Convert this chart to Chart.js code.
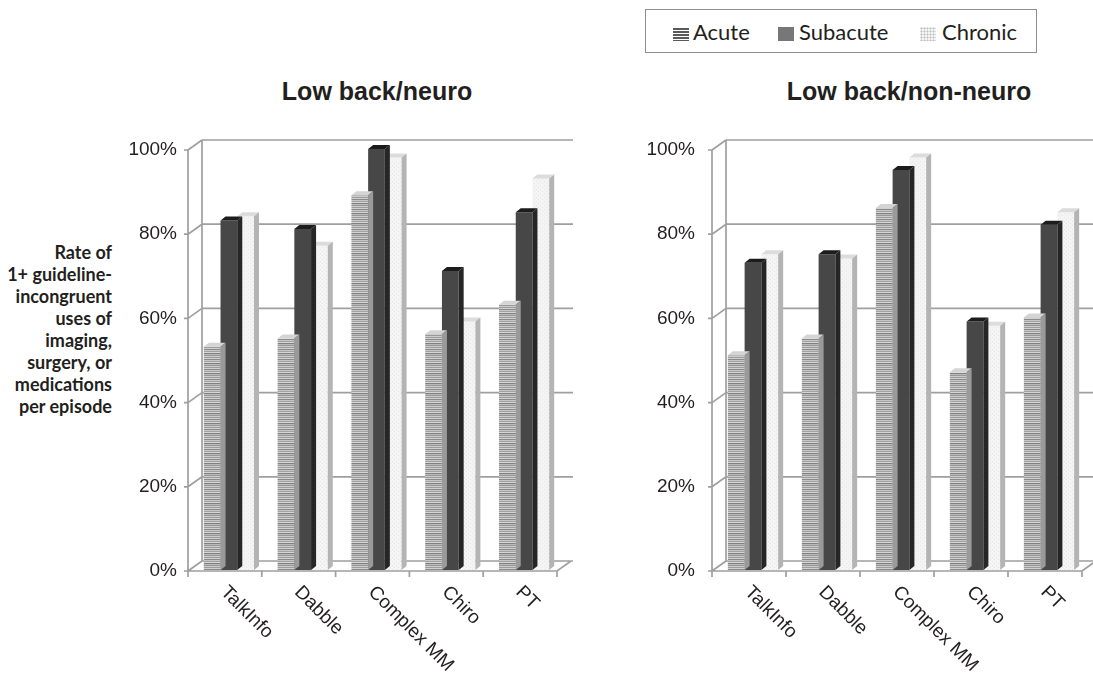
<!DOCTYPE html>
<html>
<head>
<meta charset="utf-8">
<script src="https://cdn.jsdelivr.net/npm/chart.js@4/dist/chart.umd.min.js"></script>
<style>
  html, body { margin: 0; padding: 0; background: #fff; }
  #page { position: relative; width: 1093px; height: 676px; overflow: hidden; background: #fff; }
  .title { position: absolute; top: 79px; font: bold 25px "Liberation Sans", Arial, sans-serif; line-height: 25px; color: #231f20; white-space: nowrap; transform: translateX(-50%); }
  #legend { position: absolute; left: 645px; top: 9px; width: 390px; height: 42px; border: 1px solid #8f8f8f; }
  .lg-sw { position: absolute; width: 16px; height: 14px; top: 17px; }
  .lg-tx { position: absolute; top: 11px; font: 22px Lato, sans-serif; line-height: 22px; color: #231f20; white-space: nowrap; }
  #ytitle { position: absolute; left: 0; top: 241px; width: 112px; text-align: right; font: bold 18px Lato, sans-serif; line-height: 22px; color: #231f20; }
  canvas.c { position: absolute; }
</style>
</head>
<body>
<div id="page">
  <div class="title" style="left:377px">Low back/neuro</div>
  <div class="title" style="left:909px">Low back/non-neuro</div>

  <div id="legend">
    <div class="lg-sw" style="left:27px;background:repeating-linear-gradient(#fff 0 1px,#5a5a5a 1px 3px);"></div>
    <div class="lg-tx" style="left:47px">Acute</div>
    <div class="lg-sw" style="left:132px;background:#777;"></div>
    <div class="lg-tx" style="left:153px">Subacute</div>
    <div class="lg-sw" style="left:274px;background:radial-gradient(circle,#bdbdbd 0.8px,#f4f4f4 1.2px);background-size:3px 3px;"></div>
    <div class="lg-tx" style="left:296px">Chronic</div>
  </div>

  <div id="ytitle">Rate of<br>1+ guideline-<br>incongruent<br>uses of<br>imaging,<br>surgery, or<br>medications<br>per episode</div>

  <canvas id="neuro" class="c" style="left:110px;top:100px" width="490" height="576"></canvas>
  <canvas id="nonneuro" class="c" style="left:630px;top:100px" width="463" height="576"></canvas>
</div>

<script>
// Categories and series values (percent of episodes)
const categories = ['TalkInfo', 'Dabble', 'Complex MM', 'Chiro', 'PT'];
const seriesNames = ['Acute', 'Subacute', 'Chronic'];

const neuroAcute = [53, 55, 89, 56, 63];
const neuroSubacute = [83, 81, 100, 71, 85];
const neuroChronic = [84, 77, 98, 59, 93];

const nonNeuroAcute = [51, 55, 86, 47, 60];
const nonNeuroSubacute = [73, 75, 95, 59, 82];
const nonNeuroChronic = [75, 74, 98, 58, 85];

const yTicks = [0, 20, 40, 60, 80, 100];
const yTickLabels = ['0%', '20%', '40%', '60%', '80%', '100%'];

// ---- fill patterns ----
function makeTile(w, h, paint) {
  const c = document.createElement('canvas');
  c.width = w; c.height = h;
  paint(c.getContext('2d'));
  return c;
}
function stripePattern(ctx) {
  const rows = ['#8a8a8a', '#c6c6c6', '#a2a2a2', '#d6d6d6', '#808080', '#bababa', '#989898', '#cccccc', '#9c9c9c', '#d0d0d0'];
  const tile = makeTile(8, rows.length, g => {
    rows.forEach((col, i) => { g.fillStyle = col; g.fillRect(0, i, 8, 1); });
  });
  return ctx.createPattern(tile, 'repeat');
}
function dotPattern(ctx) {
  const tile = makeTile(4, 4, g => {
    g.fillStyle = '#f4f4f4'; g.fillRect(0, 0, 4, 4);
    g.fillStyle = '#e7e7e7'; g.fillRect(0, 0, 1, 1); g.fillRect(2, 2, 1, 1);
  });
  return ctx.createPattern(tile, 'repeat');
}

// face shades for the 3D bar tops and right sides
const faceTop = ['#d4d4d4', '#1c1c1c', '#dcdcdc'];
const faceSide = ['#9a9a9a', '#262626', '#b4b4b4'];

const DEPTH_X = 14, DEPTH_Y = -10;      // back wall offset
const BAR_DX = 5, BAR_DY = -4;          // bar top/side depth
const SHIFT_X = 4, SHIFT_Y = -1;        // bars sit slightly back from the front edge
const LINE = '#9f9f9f';

const frame3d = {
  id: 'frame3d',
  beforeDatasetsDraw(chart) {
    const { ctx, chartArea: a, scales: { x, y } } = chart;
    const y0 = y.getPixelForValue(0);
    const yTop = y.getPixelForValue(100);
    ctx.save();
    ctx.strokeStyle = LINE;
    ctx.lineWidth = 1.7;
    ctx.lineCap = 'butt';
    ctx.beginPath();
    // back wall gridlines, depth connectors and front ticks
    yTicks.forEach(v => {
      const py = y.getPixelForValue(v);
      ctx.moveTo(a.left - 4, py); ctx.lineTo(a.left, py);
      ctx.moveTo(a.left, py); ctx.lineTo(a.left + DEPTH_X, py + DEPTH_Y);
      ctx.moveTo(a.left + DEPTH_X, py + DEPTH_Y); ctx.lineTo(a.right + DEPTH_X + 2, py + DEPTH_Y);
    });
    // back wall left edge and front axis
    ctx.moveTo(a.left + DEPTH_X, y0 + DEPTH_Y); ctx.lineTo(a.left + DEPTH_X, yTop + DEPTH_Y);
    ctx.moveTo(a.left, y0); ctx.lineTo(a.left, yTop);
    // floor front edge and right depth edge
    ctx.moveTo(a.left, y0); ctx.lineTo(a.right, y0);
    ctx.lineTo(a.right + DEPTH_X, y0 + DEPTH_Y);
    // category boundary ticks
    const n = categories.length;
    const step = (a.right - a.left) / n;
    for (let i = 0; i <= n; i++) {
      const px = a.left + i * step;
      ctx.moveTo(px, y0); ctx.lineTo(px, y0 + 6);
    }
    ctx.stroke();
    ctx.restore();
    // bars are drawn slightly recessed
    ctx.save();
    ctx.translate(SHIFT_X, SHIFT_Y);
  },
  afterDatasetDraw(chart, args) {
    const { ctx } = chart;
    const i = args.index;
    chart.getDatasetMeta(i).data.forEach(bar => {
      const p = bar.getProps(['x', 'y', 'base', 'width'], true);
      const l = p.x - p.width / 2, r = p.x + p.width / 2;
      ctx.fillStyle = faceTop[i];
      ctx.beginPath();
      ctx.moveTo(l, p.y); ctx.lineTo(r, p.y);
      ctx.lineTo(r + BAR_DX, p.y + BAR_DY); ctx.lineTo(l + BAR_DX, p.y + BAR_DY);
      ctx.closePath(); ctx.fill();
      ctx.fillStyle = faceSide[i];
      ctx.beginPath();
      ctx.moveTo(r, p.y); ctx.lineTo(r + BAR_DX, p.y + BAR_DY);
      ctx.lineTo(r + BAR_DX, p.base + BAR_DY); ctx.lineTo(r, p.base);
      ctx.closePath(); ctx.fill();
    });
  },
  afterDatasetsDraw(chart) {
    chart.ctx.restore();
  },
  afterDraw(chart) {
    // slanted category labels
    const { ctx, scales: { x, y } } = chart;
    const y0 = y.getPixelForValue(0);
    ctx.save();
    ctx.fillStyle = '#231f20';
    ctx.font = '19px "Liberation Sans", Arial, sans-serif';
    ctx.textAlign = 'left';
    ctx.textBaseline = 'alphabetic';
    categories.forEach((c, i) => {
      const px = x.getPixelForValue(i);
      ctx.save();
      ctx.translate(px - 5, y0 + 22);
      ctx.rotate(Math.PI / 4);
      ctx.fillText(c, 0, 0);
      ctx.restore();
    });
    ctx.restore();
  }
};

function buildChart(id, acute, subacute, chronic, yWidth, padRight, tickPad) {
  const canvas = document.getElementById(id);
  const ctx = canvas.getContext('2d');
  const fills = [stripePattern(ctx), '#474747', dotPattern(ctx)];
  const values = [acute, subacute, chronic];
  return new Chart(ctx, {
    type: 'bar',
    data: {
      labels: categories,
      datasets: seriesNames.map((name, i) => ({
        label: name,
        data: values[i],
        backgroundColor: fills[i],
        borderWidth: 0,
        categoryPercentage: 0.68,
        barPercentage: 1.0,
        clip: false
      }))
    },
    options: {
      responsive: false,
      animation: false,
      events: [],
      layout: { padding: { top: 50, right: padRight, left: 0, bottom: 0 } },
      plugins: { legend: { display: false }, tooltip: { enabled: false }, title: { display: false } },
      scales: {
        x: {
          grid: { display: false, drawTicks: false },
          border: { display: false },
          ticks: { display: false },
          afterFit: s => { s.height = 105; }
        },
        y: {
          min: 0, max: 100,
          afterBuildTicks: s => { s.ticks = yTicks.map(v => ({ value: v })); },
          grid: { display: false, drawTicks: false },
          border: { display: false },
          ticks: {
            padding: tickPad,
            color: '#231f20',
            font: { family: '"Liberation Sans", Arial, sans-serif', size: 19 },
            callback: v => yTickLabels[yTicks.indexOf(v)]
          },
          afterFit: s => { s.width = yWidth; }
        }
      }
    },
    plugins: [frame3d]
  });
}

buildChart('neuro', neuroAcute, neuroSubacute, neuroChronic, 78, 43, 11);
buildChart('nonneuro', nonNeuroAcute, nonNeuroSubacute, nonNeuroChronic, 82, 11, 17);
</script>
</body>
</html>
